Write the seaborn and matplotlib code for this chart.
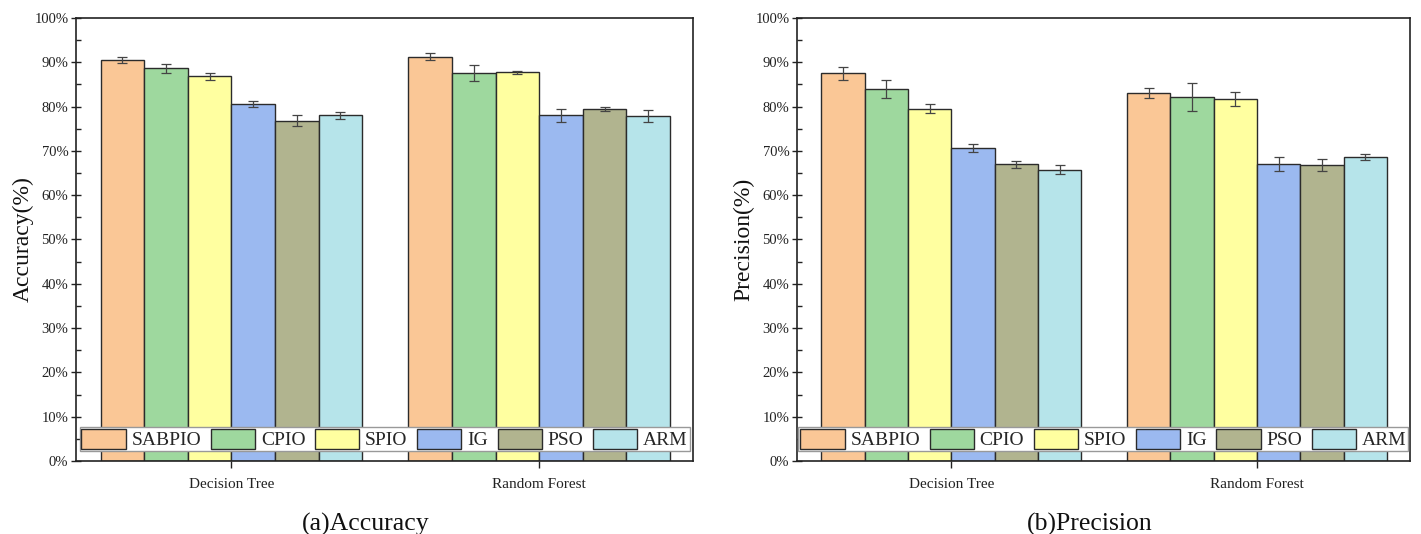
import numpy as np
import pandas as pd
import matplotlib
matplotlib.use("Agg")
import matplotlib.pyplot as plt
import seaborn as sns
from matplotlib.ticker import MultipleLocator, PercentFormatter

sns.set_theme(style="white")
plt.rcParams['font.family'] = ['Liberation Serif', 'DejaVu Serif']

classifiers = ["Decision Tree", "Random Forest"]
methods = ["SABPIO", "CPIO", "SPIO", "IG", "PSO", "ARM"]
colors = ["#FAC796", "#9ED89E", "#FFFFA0", "#9BB9F0", "#B1B48F", "#B6E4EA"]

# Accuracy (%) per method, [Decision Tree, Random Forest]
acc_dt = [90.5, 88.6, 86.8, 80.5, 76.8, 78.0]
acc_rf = [91.3, 87.6, 87.7, 78.0, 79.5, 77.9]
acc_err_dt = [0.75, 1.1, 0.7, 0.7, 1.2, 0.8]
acc_err_rf = [0.7, 1.8, 0.3, 1.5, 0.5, 1.3]

# Precision (%)
prec_dt = [87.5, 83.9, 79.5, 70.7, 67.0, 65.8]
prec_rf = [83.1, 82.2, 81.7, 67.0, 66.8, 68.6]
prec_err_dt = [1.5, 2.0, 1.0, 0.9, 0.8, 1.05]
prec_err_rf = [1.2, 3.1, 1.5, 1.6, 1.3, 0.6]


def build(dt, rf, edt, erf):
    rows = []
    for i, m in enumerate(methods):
        rows.append({"clf": classifiers[0], "method": m, "value": dt[i], "err": edt[i]})
        rows.append({"clf": classifiers[1], "method": m, "value": rf[i], "err": erf[i]})
    return pd.DataFrame(rows)


fig = plt.figure(figsize=(14.21, 5.34), dpi=100)
ax1 = fig.add_axes([0.0535, 0.1367, 0.4342, 0.8296])
ax2 = fig.add_axes([0.5609, 0.1367, 0.4313, 0.8296])

panels = [
    (ax1, build(acc_dt, acc_rf, acc_err_dt, acc_err_rf), "Accuracy(%)", "(a)Accuracy", 0.470),
    (ax2, build(prec_dt, prec_rf, prec_err_dt, prec_err_rf), "Precision(%)", "(b)Precision", 0.478),
]

for ax, df, ylab, cap, capx in panels:
    sns.barplot(data=df, x="clf", y="value", hue="method", order=classifiers,
                hue_order=methods, palette=colors, saturation=1, width=0.85,
                errorbar=None, edgecolor="#2b2b2b", linewidth=1.0, ax=ax, legend=False)
    for cont, m in zip(ax.containers, methods):
        sub = df[df.method == m].set_index("clf").loc[classifiers]
        xs = [p.get_x() + p.get_width() / 2 for p in cont.patches]
        ys = [p.get_height() for p in cont.patches]
        ax.errorbar(xs, ys, yerr=sub["err"].values, fmt="none", ecolor="#444444",
                    elinewidth=0.9, capsize=3.5, capthick=0.9, zorder=5)
    ax.set_ylim(0, 100)
    ax.set_xlim(-0.505, 1.5)
    ax.yaxis.set_major_locator(MultipleLocator(10))
    ax.yaxis.set_minor_locator(MultipleLocator(5))
    ax.yaxis.set_major_formatter(PercentFormatter(decimals=0))
    ax.tick_params(axis="y", which="major", direction="inout", length=7, width=1,
                   labelsize=10.5, left=True, pad=2, color="#222222", labelcolor="#222222")
    ax.tick_params(axis="y", which="minor", direction="in", length=3.5, width=1,
                   left=True, color="#222222")
    ax.tick_params(axis="x", direction="out", length=5, width=1, bottom=True,
                   labelsize=11, color="#222222", labelcolor="#222222", pad=7)
    ax.set_xlabel(cap, fontsize=18.5, color="#111111")
    ax.xaxis.set_label_coords(capx, -0.117)
    ax.set_ylabel(ylab, fontsize=17, color="#111111")
    ax.yaxis.set_label_coords(-0.069, 0.5)
    for s in ax.spines.values():
        s.set_color("#222222")
        s.set_linewidth(1.2)
    handles = [plt.Rectangle((0, 0), 1, 1, facecolor=c, edgecolor="#2b2b2b", linewidth=1.0)
               for c in colors]
    leg = ax.legend(handles, methods, loc="lower center", bbox_to_anchor=(0.5, 0.022),
                    ncol=6, fontsize=14, frameon=True, fancybox=False, handlelength=2.27,
                    handleheight=1.2, handletextpad=0.3, columnspacing=0.5,
                    borderpad=0.1, borderaxespad=0.0)
    leg.get_frame().set_edgecolor("#999999")
    leg.get_frame().set_linewidth(1.0)
    leg.get_frame().set_alpha(1.0)

fig.savefig("out.png", dpi=100)
